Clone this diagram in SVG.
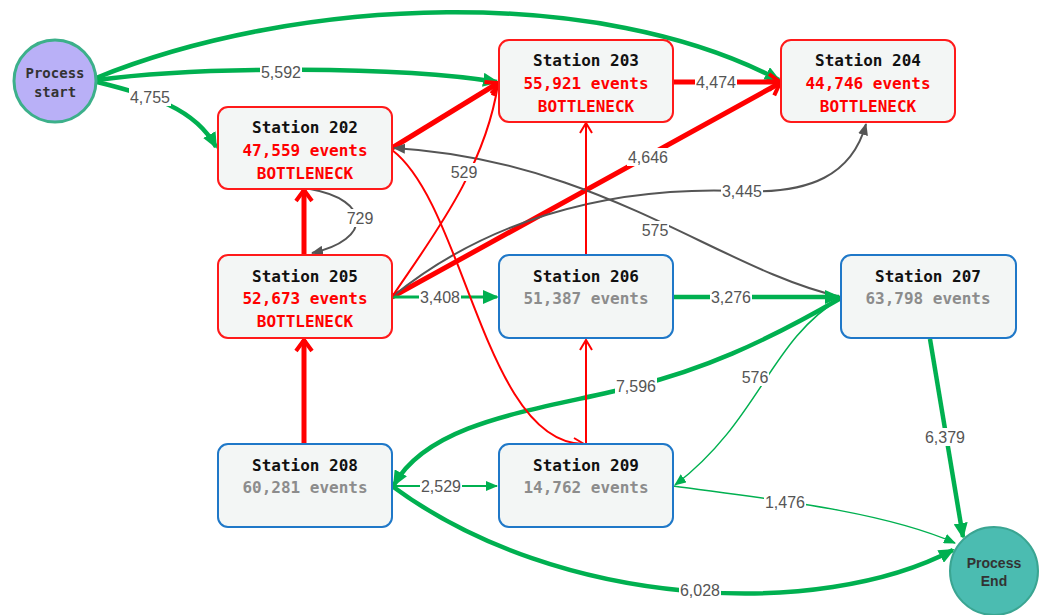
<svg xmlns="http://www.w3.org/2000/svg" width="1044" height="615" viewBox="0 0 1044 615">
<style>
.node rect{fill:#f3f6f5;stroke-width:2}
.bn rect{stroke:#ff1a1a}
.ok rect{stroke:#1f78c8}
.t{font-family:"DejaVu Sans Mono","Liberation Mono",monospace;font-size:16px;text-anchor:middle}
.ti{font-weight:bold;fill:#111}
.er{font-weight:bold;fill:#ff0000}
.eg{font-weight:bold;fill:#8c8c8c}
.bk{fill:#ff0000;font-weight:bold}
.lbl{font-family:"Liberation Sans",Arial,sans-serif;font-size:16px;fill:#555;text-anchor:middle}
.lb{fill:#fff}
.g4{stroke:#00b050;stroke-width:4.5}
.g3{stroke:#00b050;stroke-width:3}
.g2{stroke:#00b050;stroke-width:2}
.g1{stroke:#00b050;stroke-width:1.5}
.r5{stroke:#ff0000;stroke-width:5}
.r2{stroke:#ff0000;stroke-width:2}
.k2{stroke:#555;stroke-width:2}
</style>
<defs>
<marker id="aG" markerUnits="userSpaceOnUse" markerWidth="16" markerHeight="14" refX="14" refY="7" orient="auto"><path d="M0,0 L16,7 L0,14 z" fill="#00b050"/></marker>
<marker id="aGs" markerUnits="userSpaceOnUse" markerWidth="12" markerHeight="10" refX="11" refY="5" orient="auto"><path d="M0,0 L12,5 L0,10 z" fill="#00b050"/></marker>
<marker id="aK" markerUnits="userSpaceOnUse" markerWidth="12" markerHeight="10" refX="11" refY="5" orient="auto"><path d="M0,0 L12,5 L0,10 z" fill="#555"/></marker>
<marker id="aR" markerUnits="userSpaceOnUse" markerWidth="16" markerHeight="20" refX="13" refY="10" orient="auto"><path d="M2,2 L13,10 L2,18" fill="none" stroke="#ff0000" stroke-width="4"/></marker>
<marker id="aRs" markerUnits="userSpaceOnUse" markerWidth="14" markerHeight="16" refX="12" refY="8" orient="auto"><path d="M2,2 L12,8 L2,14" fill="none" stroke="#ff0000" stroke-width="2"/></marker>
</defs>
<rect width="1044" height="615" fill="#fff"/>
<g id="edges" fill="none">
<path class="g4" d="M96,78 C300,-5 600,-15 779,80" marker-end="url(#aG)"/>
<path class="g4" d="M97,80 C200,66 400,66 497,82" marker-end="url(#aG)"/>
<path class="g4" d="M97,82 C150,95 195,108 216,147" marker-end="url(#aG)"/>
<path class="r5" d="M392,148 L498,83" marker-end="url(#aR)"/>
<path class="r5" d="M673,82 L780,82" marker-end="url(#aR)"/>
<path class="r5" d="M392,297 L780,83" marker-end="url(#aR)"/>
<path class="k2" d="M392,297 C480,225 600,185 742,191 C810,194 852,175 866,124" marker-end="url(#aK)"/>
<path class="k2" d="M841,297 C720,270 600,160 394,148" marker-end="url(#aK)"/>
<path class="r5" d="M304,255 L304,190" marker-end="url(#aR)"/>
<path class="k2" d="M310,189 C372,200 372,240 312,253" marker-end="url(#aK)"/>
<path class="g3" d="M392,297 L497,297" marker-end="url(#aG)"/>
<path class="r2" d="M586,255 L586,123" marker-end="url(#aRs)"/>
<path class="g4" d="M673,297 L839,297" marker-end="url(#aG)"/>
<path class="g4" d="M841,298 C760,345 700,370 636,386 C540,410 430,420 394,485" marker-end="url(#aG)"/>
<path class="g1" d="M841,298 C770,340 760,420 675,485" marker-end="url(#aGs)"/>
<path class="g4" d="M930,339 L963,537" marker-end="url(#aG)"/>
<path class="g2" d="M392,486 L497,486" marker-end="url(#aGs)"/>
<path class="r5" d="M304,444 L304,340" marker-end="url(#aR)"/>
<path class="g4" d="M392,486 C560,610 820,620 953,550" marker-end="url(#aG)"/>
<path class="r2" d="M586,444 L586,340" marker-end="url(#aRs)"/>
<path class="g1" d="M673,486 C760,498 880,510 955,543" marker-end="url(#aGs)"/>
<path class="r2" d="M392,150 C465,205 485,444 584,444" marker-end="url(#aRs)"/>
<path class="r2" d="M392,297 C430,240 485,170 498,84" marker-end="url(#aRs)"/>
</g>
<g id="labels">
<rect class="lb" x="260" y="63" width="42" height="18"/><text class="lbl" x="281" y="78">5,592</text>
<rect class="lb" x="129" y="88" width="42" height="18"/><text class="lbl" x="150" y="103">4,755</text>
<rect class="lb" x="695" y="73" width="42" height="18"/><text class="lbl" x="716" y="88">4,474</text>
<rect class="lb" x="627" y="148" width="42" height="18"/><text class="lbl" x="648" y="163">4,646</text>
<rect class="lb" x="450" y="163" width="28" height="18"/><text class="lbl" x="464" y="178">529</text>
<rect class="lb" x="721" y="182" width="42" height="18"/><text class="lbl" x="742" y="197">3,445</text>
<rect class="lb" x="641" y="221" width="28" height="18"/><text class="lbl" x="655" y="236">575</text>
<rect class="lb" x="346" y="209" width="28" height="18"/><text class="lbl" x="360" y="224">729</text>
<rect class="lb" x="419" y="288" width="42" height="18"/><text class="lbl" x="440" y="303">3,408</text>
<rect class="lb" x="710" y="288" width="42" height="18"/><text class="lbl" x="731" y="303">3,276</text>
<rect class="lb" x="615" y="377" width="42" height="18"/><text class="lbl" x="636" y="392">7,596</text>
<rect class="lb" x="741" y="368" width="28" height="18"/><text class="lbl" x="755" y="383">576</text>
<rect class="lb" x="924" y="428" width="42" height="18"/><text class="lbl" x="945" y="443">6,379</text>
<rect class="lb" x="420" y="477" width="42" height="18"/><text class="lbl" x="441" y="492">2,529</text>
<rect class="lb" x="764" y="493" width="42" height="18"/><text class="lbl" x="785" y="508">1,476</text>
<rect class="lb" x="679" y="581" width="42" height="18"/><text class="lbl" x="700" y="596">6,028</text>
</g>
<g id="start">
<circle cx="55" cy="81" r="41" fill="#b9b0f7" stroke="#3cb08a" stroke-width="3"/>
<text x="55" y="78" font-family="DejaVu Sans Mono,monospace" font-size="14" font-weight="bold" fill="#333" text-anchor="middle">Process</text>
<text x="55" y="97" font-family="DejaVu Sans Mono,monospace" font-size="14" font-weight="bold" fill="#333" text-anchor="middle">start</text>
</g>
<g id="end">
<circle cx="994" cy="571" r="44" fill="#4bbcb1" stroke="#3aa592" stroke-width="2"/>
<text x="994" y="568" font-family="Liberation Sans,Arial,sans-serif" font-size="14" font-weight="bold" fill="#333" text-anchor="middle">Process</text>
<text x="994" y="586" font-family="Liberation Sans,Arial,sans-serif" font-size="14" font-weight="bold" fill="#333" text-anchor="middle">End</text>
</g>
<g id="s202" class="node bn"><rect x="218" y="107" width="174" height="82" rx="10"/>
<text class="t ti" x="305" y="133">Station 202</text><text class="t er" x="305" y="156">47,559 events</text><text class="t bk" x="305" y="179">BOTTLENECK</text></g>
<g id="s203" class="node bn"><rect x="499" y="40" width="174" height="82" rx="10"/>
<text class="t ti" x="586" y="66">Station 203</text><text class="t er" x="586" y="89">55,921 events</text><text class="t bk" x="586" y="112">BOTTLENECK</text></g>
<g id="s204" class="node bn"><rect x="781" y="40" width="174" height="82" rx="10"/>
<text class="t ti" x="868" y="66">Station 204</text><text class="t er" x="868" y="89">44,746 events</text><text class="t bk" x="868" y="112">BOTTLENECK</text></g>
<g id="s205" class="node bn"><rect x="218" y="255" width="174" height="83" rx="10"/>
<text class="t ti" x="305" y="282">Station 205</text><text class="t er" x="305" y="304">52,673 events</text><text class="t bk" x="305" y="327">BOTTLENECK</text></g>
<g id="s206" class="node ok"><rect x="499" y="255" width="174" height="83" rx="10"/>
<text class="t ti" x="586" y="282">Station 206</text><text class="t eg" x="586" y="304">51,387 events</text></g>
<g id="s207" class="node ok"><rect x="841" y="255" width="175" height="83" rx="10"/>
<text class="t ti" x="928" y="282">Station 207</text><text class="t eg" x="928" y="304">63,798 events</text></g>
<g id="s208" class="node ok"><rect x="218" y="444" width="174" height="83" rx="10"/>
<text class="t ti" x="305" y="471">Station 208</text><text class="t eg" x="305" y="493">60,281 events</text></g>
<g id="s209" class="node ok"><rect x="499" y="444" width="174" height="83" rx="10"/>
<text class="t ti" x="586" y="471">Station 209</text><text class="t eg" x="586" y="493">14,762 events</text></g>
</svg>
